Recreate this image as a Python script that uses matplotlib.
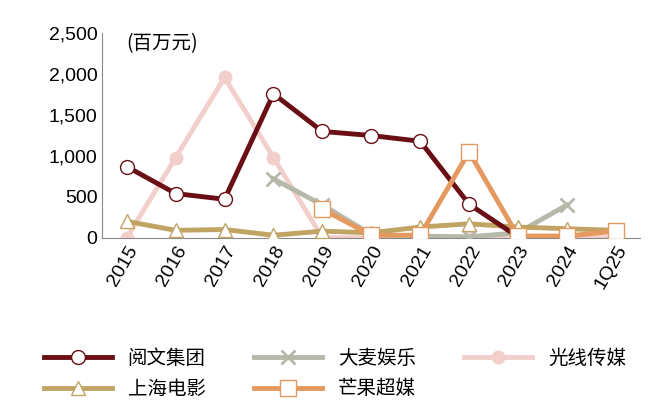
import matplotlib
matplotlib.use("Agg")
import matplotlib.pyplot as plt
import numpy as np
plt.rcParams['font.family'] = ['Liberation Sans', 'Noto Sans CJK SC']

cats = ["2015","2016","2017","2018","2019","2020","2021","2022","2023","2024","1Q25"]
nan = np.nan
yuewen = [870, 540, 470, 1760, 1300, 1250, 1180, 410, 10, nan, nan]
damai = [nan, nan, nan, 720, 400, 40, 20, 10, 60, 400, nan]
guangxian = [0, 980, 1960, 980, 0, 0, 0, 0, 0, 0, 0]
shangying = [200, 90, 100, 30, 80, 60, 130, 170, 130, 110, 90]
mango = [nan, nan, nan, nan, 350, 30, 30, 1050, 20, 20, 80]

fig = plt.figure(figsize=(6.6, 4.17), dpi=100)
ax = fig.add_axes([0.155, 0.43, 0.815, 0.49])
x = np.arange(len(cats))
ax.plot(x, guangxian, color="#f2cfcb", lw=3.5, marker="o", ms=9, mfc="#f2cfcb", mec="#f2cfcb", label="光线传媒", zorder=2)
ax.plot(x, damai, color="#b5b9a9", lw=3.5, marker="x", ms=10, mew=2, label="大麦娱乐", zorder=3)
ax.plot(x, shangying, color="#bfa463", lw=3.5, marker="^", ms=10, mfc="white", mec="#bfa463", label="上海电影", zorder=4)
ax.plot(x, yuewen, color="#6b0f16", lw=3.5, marker="o", ms=10, mfc="white", mec="#6b0f16", label="阅文集团", zorder=5)
ax.plot(x, mango, color="#e5995e", lw=3.5, marker="s", ms=11, mfc="white", mec="#e5995e", label="芒果超媒", zorder=6)

ax.set_ylim(0, 2500)
ax.set_xlim(-0.5, len(cats) - 0.5)
ax.set_yticks(range(0, 2501, 500))
ax.set_yticklabels([f"{v:,}" for v in range(0, 2501, 500)], fontsize=14)
ax.set_xticks(x)
ax.set_xticklabels(cats, rotation=60, ha="right", rotation_mode="anchor", fontsize=14)
ax.tick_params(axis="y", length=0)
ax.tick_params(axis="x", direction="in", length=4, color="#888888")
for s in ["top", "right"]:
    ax.spines[s].set_visible(False)
ax.spines["left"].set_color("#888888")
ax.spines["bottom"].set_color("#888888")
ax.text(0.0, 2380, "(百万元)", fontsize=14, ha="left", va="center", family="Noto Sans CJK SC")

h, l = ax.get_legend_handles_labels()
order = [l.index(n) for n in ["阅文集团", "上海电影", "大麦娱乐", "芒果超媒", "光线传媒"]]
fig.legend([h[i] for i in order], [l[i] for i in order], loc="lower left", bbox_to_anchor=(0.04, 0.0),
           ncol=3, frameon=False, fontsize=14, handlelength=3.5, columnspacing=2.5,
           prop={"family": "Noto Sans CJK SC", "size": 14})
fig.savefig("out.png", dpi=100)
